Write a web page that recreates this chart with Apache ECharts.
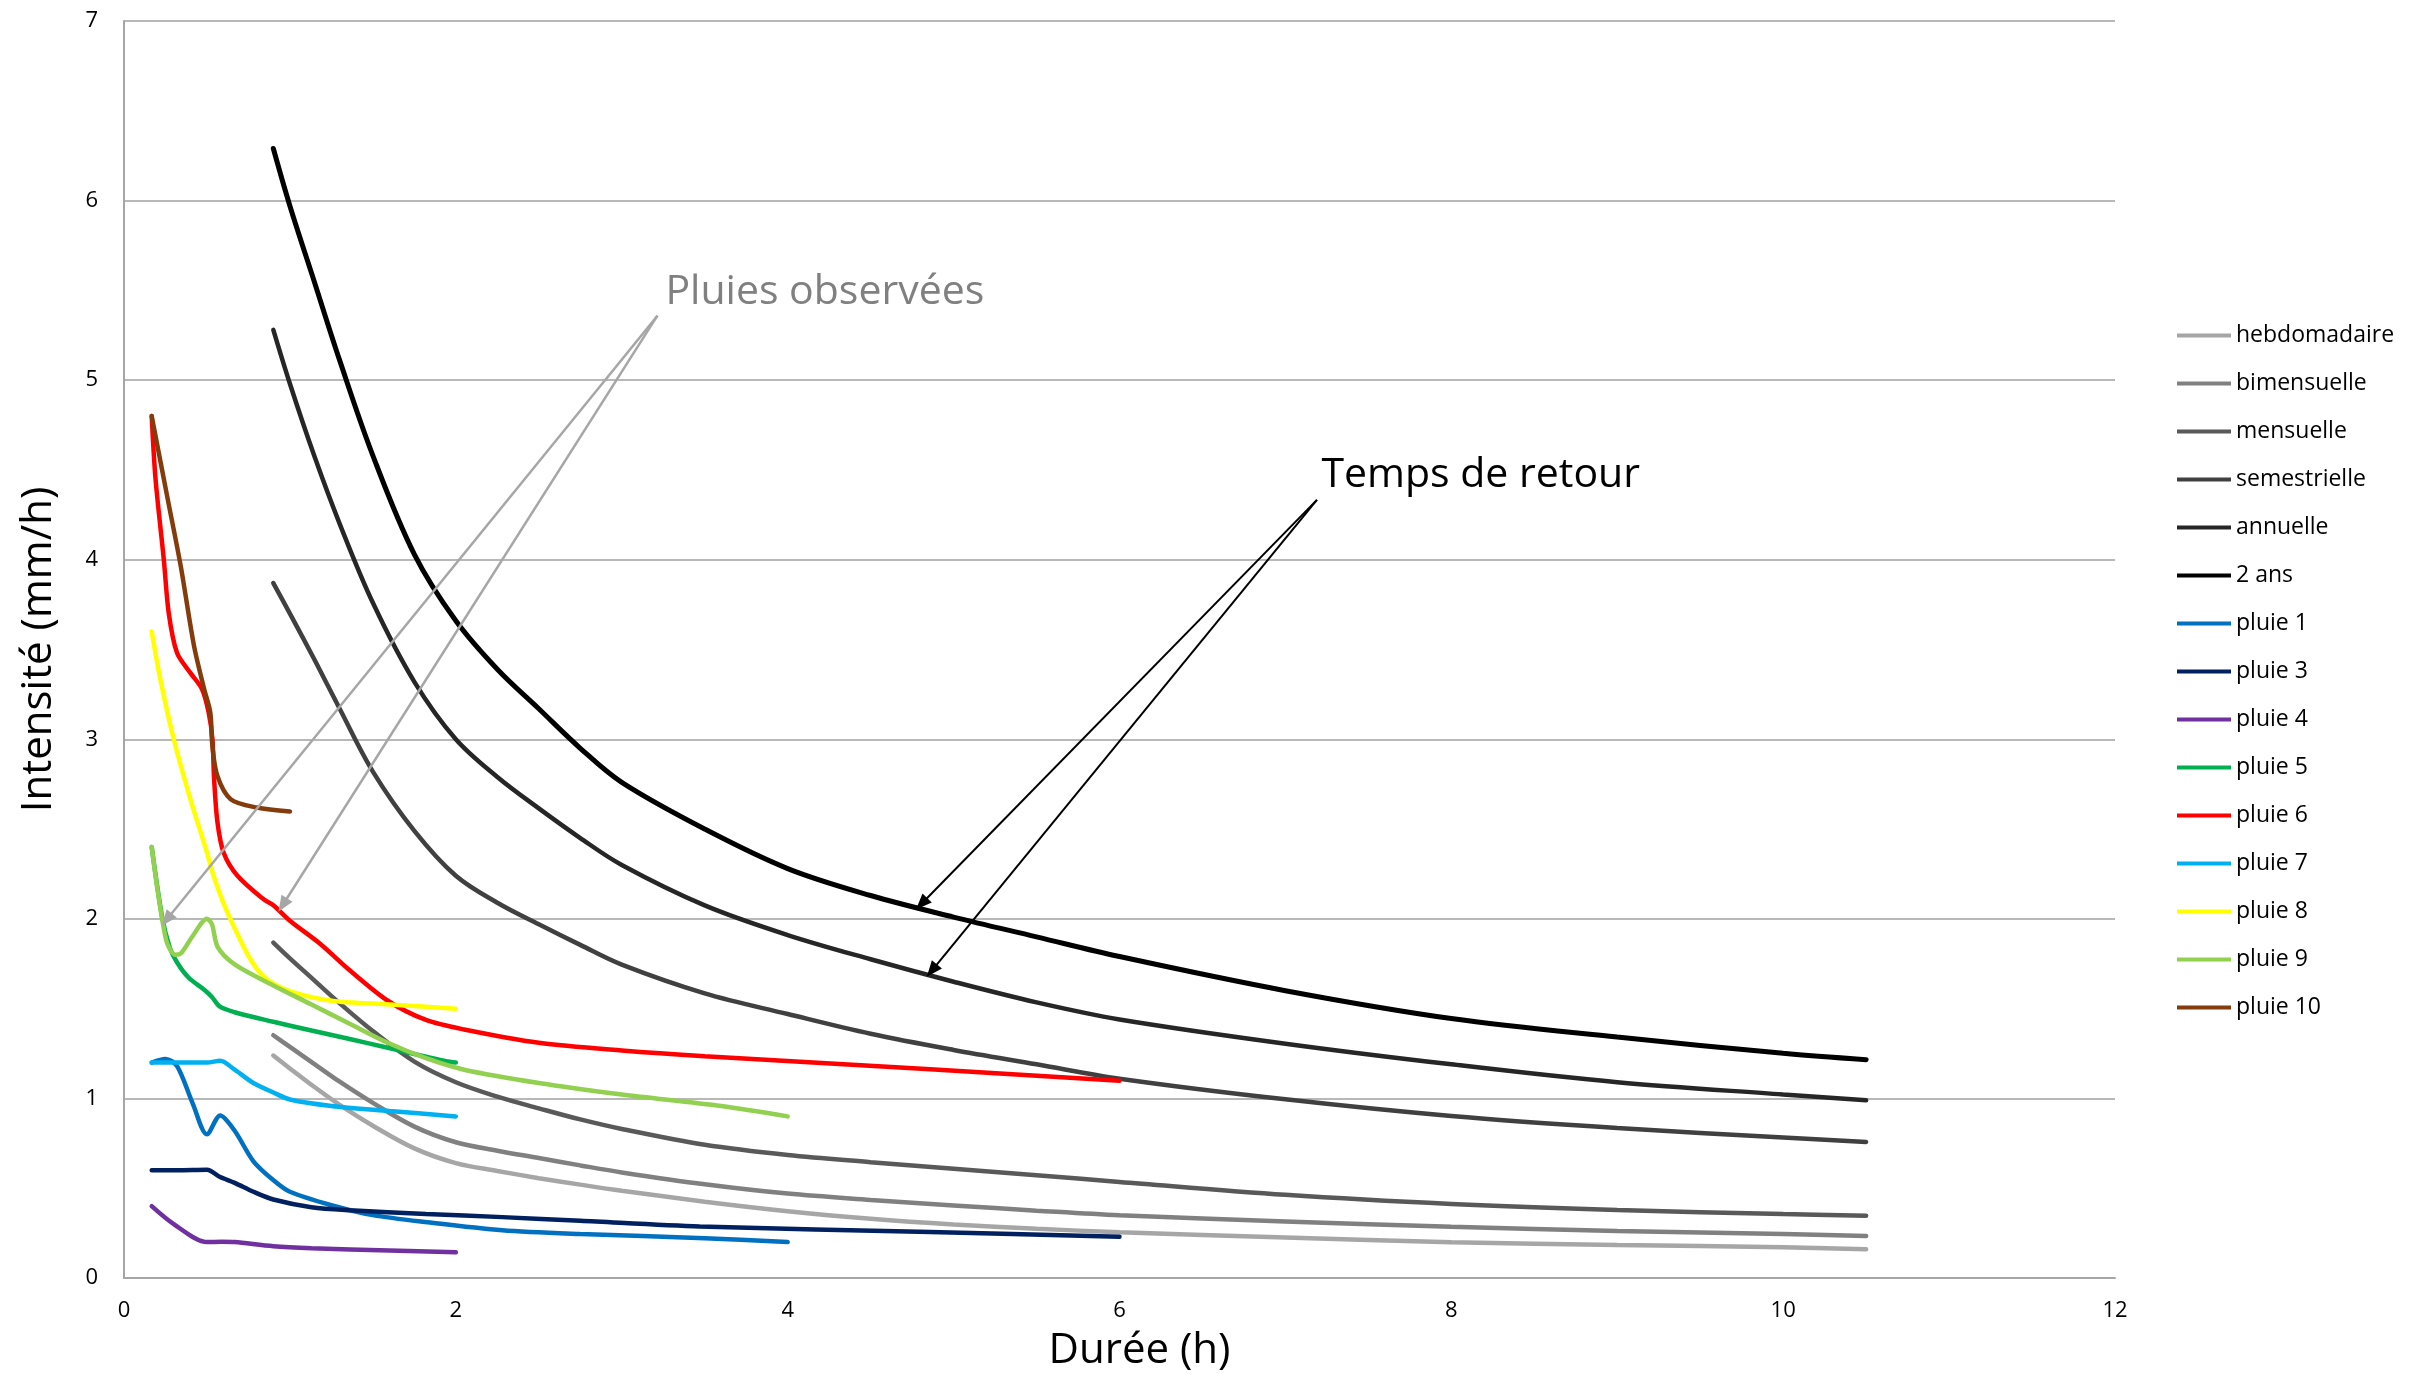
<!DOCTYPE html>
<html>
<head>
<meta charset="utf-8">
<script src="https://cdn.jsdelivr.net/npm/echarts@6/dist/echarts.min.js"></script>
<style>
html,body{margin:0;padding:0;background:#fff;}
#chart{width:2417px;height:1377px;}
</style>
</head>
<body>
<div id="chart"></div>
<script>
// ---- Data (durations in h, intensities in mm/h) ----
const idfDurations = [0.9, 1.0, 1.15, 1.3, 1.5, 1.75, 2.0, 2.25, 2.5, 2.75, 3.0, 3.5, 4.0, 4.5, 5.0, 5.5, 6.0, 7.0, 8.0, 9.0, 10.0, 10.5];
const hebdomadaire = [1.239, 1.167, 1.062, 0.964, 0.848, 0.722, 0.64, 0.596, 0.556, 0.52, 0.486, 0.425, 0.372, 0.33, 0.298, 0.274, 0.255, 0.225, 0.199, 0.184, 0.171, 0.16];
const bimensuelle = [1.352, 1.287, 1.19, 1.093, 0.975, 0.843, 0.756, 0.709, 0.668, 0.627, 0.588, 0.522, 0.47, 0.435, 0.404, 0.375, 0.349, 0.315, 0.285, 0.262, 0.245, 0.234];
const mensuelle = [1.868, 1.78, 1.655, 1.53, 1.375, 1.205, 1.09, 1.01, 0.945, 0.883, 0.83, 0.742, 0.685, 0.645, 0.608, 0.572, 0.535, 0.463, 0.412, 0.378, 0.356, 0.347];
const semestrielle = [3.87, 3.7, 3.44, 3.17, 2.82, 2.49, 2.24, 2.09, 1.97, 1.855, 1.745, 1.585, 1.47, 1.36, 1.27, 1.19, 1.11, 0.995, 0.902, 0.835, 0.783, 0.758];
const annuelle = [5.28, 4.98, 4.57, 4.2, 3.76, 3.32, 3.0, 2.79, 2.615, 2.45, 2.3, 2.075, 1.91, 1.775, 1.65, 1.535, 1.44, 1.305, 1.19, 1.09, 1.022, 0.99];
const deuxAns = [6.29, 5.97, 5.54, 5.11, 4.58, 4.03, 3.66, 3.39, 3.17, 2.95, 2.76, 2.5, 2.28, 2.13, 2.01, 1.9, 1.79, 1.6, 1.445, 1.342, 1.252, 1.216];

const pluie1 = [[0.167,1.2],[0.25,1.22],[0.32,1.18],[0.415,0.97],[0.5,0.8],[0.58,0.905],[0.667,0.82],[0.78,0.65],[0.9,0.545],[1.0,0.48],[1.25,0.405],[1.5,0.35],[1.83,0.31],[2.28,0.266],[2.75,0.245],[3.5,0.222],[4.0,0.2]];
const pluie3 = [[0.167,0.6],[0.32,0.6],[0.5,0.603],[0.576,0.564],[0.667,0.53],[0.78,0.48],[0.9,0.437],[1.13,0.394],[1.36,0.377],[1.82,0.356],[2.28,0.339],[2.75,0.319],[3.47,0.287],[4.86,0.256],[6.0,0.23]];
const pluie4 = [[0.167,0.4],[0.3,0.3],[0.5,0.2],[0.59,0.202],[0.667,0.2],[0.9,0.177],[1.13,0.166],[1.6,0.153],[2.0,0.143]];
const pluie5 = [[0.167,2.4],[0.23,2.01],[0.276,1.84],[0.32,1.757],[0.39,1.672],[0.48,1.608],[0.53,1.565],[0.576,1.512],[0.667,1.48],[0.9,1.427],[1.13,1.378],[1.36,1.331],[1.59,1.282],[1.94,1.207],[2.0,1.2]];
const pluie6 = [[0.167,4.8],[0.19,4.45],[0.24,4.0],[0.27,3.7],[0.32,3.48],[0.4,3.37],[0.47,3.28],[0.51,3.15],[0.533,3.0],[0.543,2.78],[0.563,2.54],[0.6,2.37],[0.684,2.24],[0.84,2.11],[0.9,2.076],[1.0,1.99],[1.18,1.863],[1.36,1.714],[1.59,1.544],[1.82,1.437],[2.05,1.384],[2.5,1.31],[3.0,1.267],[3.5,1.235],[4.86,1.163],[6.0,1.098]];
const pluie7 = [[0.167,1.2],[0.32,1.2],[0.5,1.2],[0.58,1.21],[0.667,1.16],[0.78,1.086],[0.9,1.033],[1.0,0.994],[1.25,0.958],[1.6,0.93],[2.0,0.9]];
const pluie8 = [[0.167,3.6],[0.22,3.33],[0.3,3.0],[0.4,2.667],[0.5,2.37],[0.533,2.26],[0.59,2.11],[0.667,1.948],[0.76,1.778],[0.85,1.672],[1.0,1.597],[1.25,1.544],[1.6,1.523],[2.0,1.5]];
const pluie9 = [[0.167,2.4],[0.253,1.885],[0.31,1.8],[0.345,1.81],[0.415,1.906],[0.5,2.0],[0.53,1.97],[0.565,1.842],[0.667,1.746],[0.9,1.629],[1.13,1.523],[1.36,1.416],[1.59,1.31],[1.82,1.224],[2.05,1.16],[2.5,1.086],[3.0,1.022],[3.6,0.958],[4.0,0.9]];
const pluie10 = [[0.167,4.8],[0.26,4.354],[0.342,3.964],[0.422,3.52],[0.483,3.28],[0.52,3.15],[0.533,2.96],[0.563,2.795],[0.643,2.666],[0.8,2.62],[1.0,2.598]];

// annotations (data coordinates)
const grayArrowFrom = [3.215, 5.359];
const grayArrowTo = [[0.2575, 1.996], [0.9566, 2.077]];
const blackArrowFrom = [7.19, 4.333];
const blackArrowTo = [[4.807, 2.084], [4.869, 1.712]];
const labelPluies = {text: 'Pluies observées', at: [3.263, 5.487]};
const labelTemps = {text: 'Temps de retour', at: [7.217, 4.469]};

const xAxisMin = 0, xAxisMax = 12, xAxisStep = 2;
const yAxisMin = 0, yAxisMax = 7, yAxisStep = 1;

// ---- Build chart ----
const FONT = 'Open Sans';
const idfSeries = [
  ['hebdomadaire', hebdomadaire, '#A6A6A6'],
  ['bimensuelle', bimensuelle, '#808080'],
  ['mensuelle', mensuelle, '#595959'],
  ['semestrielle', semestrielle, '#404040'],
  ['annuelle', annuelle, '#262626'],
  ['2 ans', deuxAns, '#000000']
];
const rainSeries = [
  ['pluie 1', pluie1, '#0070C0'],
  ['pluie 3', pluie3, '#002060'],
  ['pluie 4', pluie4, '#7030A0'],
  ['pluie 5', pluie5, '#00B050'],
  ['pluie 6', pluie6, '#FF0000'],
  ['pluie 7', pluie7, '#00B0F0'],
  ['pluie 8', pluie8, '#FFFF00'],
  ['pluie 9', pluie9, '#92D050'],
  ['pluie 10', pluie10, '#843C0C']
];

const series = [];
idfSeries.forEach(([name, vals, color]) => {
  series.push({
    name, type: 'line', symbol: 'none', showSymbol: false, smooth: 0.35,
    data: idfDurations.map((x, i) => [x, vals[i]]),
    lineStyle: {color, width: name === '2 ans' ? 5 : 4.5, cap: 'round'},
    itemStyle: {color}, emphasis: {disabled: true}, z: 2
  });
});
rainSeries.forEach(([name, pts, color]) => {
  series.push({
    name, type: 'line', symbol: 'none', showSymbol: false, smooth: 0.3,
    data: pts,
    lineStyle: {color, width: 4.5, cap: 'round'},
    itemStyle: {color}, emphasis: {disabled: true}, z: 3
  });
});

function arrows(from, tos) {
  return tos.map(t => [{coord: from}, {coord: t}]);
}
series.push({
  name: '_annot', type: 'line', data: [], silent: true, z: 5,
  markLine: {
    silent: true, animation: false,
    symbol: ['none', 'triangle'], symbolSize: [13, 16],
    label: {show: false},
    emphasis: {disabled: true},
    lineStyle: {type: 'solid'},
    data: [
      ...arrows(grayArrowFrom, grayArrowTo).map(d => { d[0].lineStyle = {color: '#A6A6A6', width: 2.5}; return d; }),
      ...arrows(blackArrowFrom, blackArrowTo).map(d => { d[0].lineStyle = {color: '#000000', width: 2}; return d; })
    ]
  },
  markPoint: {
    silent: true, animation: false,
    symbol: 'circle', symbolSize: 0,
    data: [
      {coord: labelPluies.at, label: {show: true, position: 'right', distance: 0, formatter: labelPluies.text, fontFamily: FONT, fontSize: 41, color: '#808080'}},
      {coord: labelTemps.at, label: {show: true, position: 'right', distance: 0, formatter: labelTemps.text, fontFamily: FONT, fontSize: 41, color: '#000000'}}
    ]
  }
});

const chart = echarts.init(document.getElementById('chart'), null, {renderer: 'canvas'});
chart.setOption({
  animation: false,
  backgroundColor: '#ffffff',
  textStyle: {fontFamily: FONT},
  grid: {left: 124, right: 302, top: 21, bottom: 98, containLabel: false},
  legend: {
    data: [...idfSeries, ...rainSeries].map(s => ({name: s[0], icon: 'rect', itemStyle: {color: s[2]}})),
    orient: 'vertical', left: 2172, top: 319,
    itemWidth: 54, itemHeight: 4, itemGap: 25,
    textStyle: {fontFamily: FONT, fontSize: 23, color: '#000', lineHeight: 23},
    selectedMode: false
  },
  xAxis: {
    type: 'value', min: xAxisMin, max: xAxisMax, interval: xAxisStep,
    name: 'Durée (h)', nameLocation: 'middle', nameGap: 52,
    nameTextStyle: {fontFamily: FONT, fontSize: 42, color: '#000', padding: [0, 0, 0, 40]},
    axisLine: {show: true, lineStyle: {color: '#A6A6A6', width: 2}},
    axisTick: {show: false},
    axisLabel: {fontFamily: FONT, fontSize: 22, color: '#000', margin: 22},
    splitLine: {show: false}
  },
  yAxis: {
    type: 'value', min: yAxisMin, max: yAxisMax, interval: yAxisStep,
    name: 'Intensité (mm/h)', nameLocation: 'middle', nameGap: 64,
    nameTextStyle: {fontFamily: FONT, fontSize: 42, color: '#000'},
    axisLine: {show: true, lineStyle: {color: '#A6A6A6', width: 2}},
    axisTick: {show: false},
    axisLabel: {fontFamily: FONT, fontSize: 22, color: '#000', margin: 26},
    splitLine: {show: true, lineStyle: {color: '#A0A0A0', width: 1.5}}
  },
  series
});
</script>
</body>
</html>
